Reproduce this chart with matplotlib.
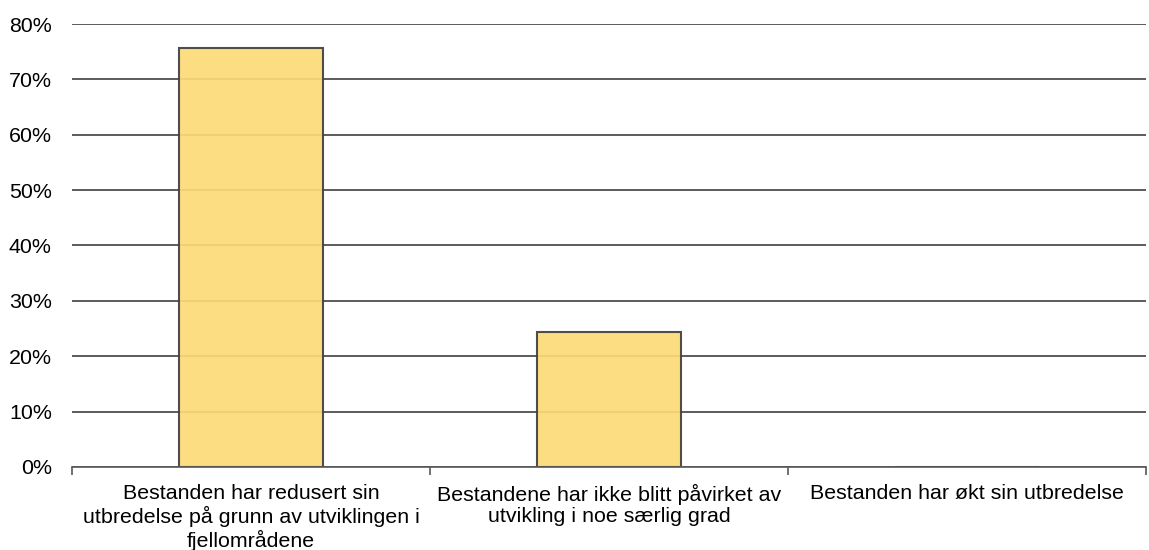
import matplotlib.pyplot as plt
import numpy as np
from matplotlib.ticker import FuncFormatter

categories = [
    "Bestanden har redusert sin\nutbredelse på grunn av utviklingen i\nfjellområdene",
    "Bestandene har ikke blitt påvirket av\nutvikling i noe særlig grad",
    "Bestanden har økt sin utbredelse",
]
values = [75.7, 24.3, 0.0]
yticks = [0, 10, 20, 30, 40, 50, 60, 70, 80]

plt.rcParams['font.family'] = ['Liberation Sans', 'DejaVu Sans']

fig = plt.figure(figsize=(11.49, 5.5), dpi=100)
ax = fig.add_axes([72 / 1149, 83 / 550, (1146 - 72) / 1149, (467 - 24) / 550])

x = np.arange(len(categories))
ax.bar(x, values, width=0.4, color='#FDDA77', edgecolor='#404040', linewidth=1.5,
       alpha=0.92, zorder=1)

ax.set_xlim(-0.5, len(categories) - 0.5)
ax.set_ylim(0, 80)
ax.set_yticks(yticks)
ax.yaxis.set_major_formatter(FuncFormatter(lambda v, p: f'{int(v)}%'))
ax.grid(axis='y', color='#404040', linewidth=1.2, zorder=0)
ax.set_axisbelow(True)

ax.set_xticks(x)
ax.set_xticklabels(categories, linespacing=1.18)
ax.set_xticks(np.arange(len(categories) + 1) - 0.5, minor=True)
ax.tick_params(axis='x', which='major', length=0, pad=12, labelsize=15.4, colors='black')
ax.tick_params(axis='x', which='minor', length=6, width=1.2, color='#595959', direction='out')
ax.tick_params(axis='y', length=0, pad=14.5, labelsize=15.4)

for s in ['top', 'right', 'left']:
    ax.spines[s].set_visible(False)
ax.spines['bottom'].set_color('#595959')
ax.spines['bottom'].set_linewidth(1.2)

fig.savefig('out.png', dpi=100)
